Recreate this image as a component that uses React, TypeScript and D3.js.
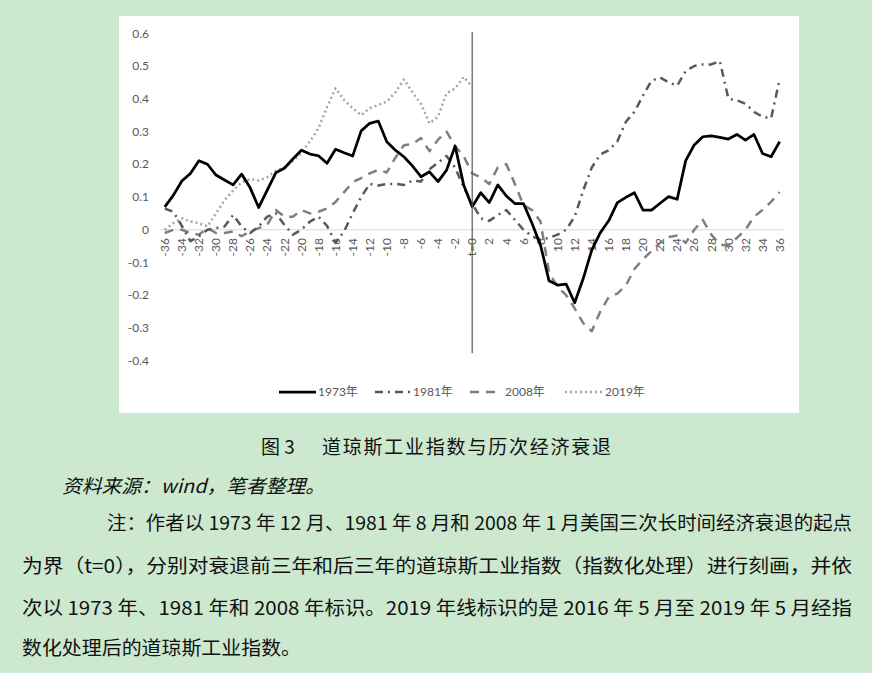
import React from "react";
import * as d3 from "d3";

// Months relative to the recession start (t = 0)
const months = [
  -36, -35, -34, -33, -32, -31, -30, -29, -28, -27, -26, -25, -24, -23, -22, -21, -20, -19, -18, -17, -16, -15, -14, -13,
  -12, -11, -10, -9, -8, -7, -6, -5, -4, -3, -2, -1, 0, 1, 2, 3, 4, 5, 6, 7, 8, 9, 10, 11, 12, 13, 14, 15, 16, 17, 18,
  19, 20, 21, 22, 23, 24, 25, 26, 27, 28, 29, 30, 31, 32, 33, 34, 35, 36,
];
const monthsPre = months.slice(0, 37);

const xTickValues = [
  -36, -34, -32, -30, -28, -26, -24, -22, -20, -18, -16, -14, -12, -10, -8, -6, -4, -2, 0, 2, 4, 6, 8, 10, 12, 14, 16,
  18, 20, 22, 24, 26, 28, 30, 32, 34, 36,
];
const xTickLabels = [
  "-36", "-34", "-32", "-30", "-28", "-26", "-24", "-22", "-20", "-18", "-16", "-14", "-12", "-10", "-8", "-6", "-4",
  "-2", "t=0", "2", "4", "6", "8", "10", "12", "14", "16", "18", "20", "22", "24", "26", "28", "30", "32", "34", "36",
];
const yTicks = [0.6, 0.5, 0.4, 0.3, 0.2, 0.1, 0, -0.1, -0.2, -0.3, -0.4];
const yTickLabels = ["0.6", "0.5", "0.4", "0.3", "0.2", "0.1", "0", "-0.1", "-0.2", "-0.3", "-0.4"];

const s1973 = [
  0.07, 0.105, 0.149, 0.172, 0.211, 0.2, 0.167, 0.152, 0.137, 0.17, 0.128, 0.068, 0.121, 0.174, 0.188, 0.216, 0.243,
  0.231, 0.226, 0.203, 0.246, 0.235, 0.225, 0.302, 0.325, 0.332, 0.269, 0.243, 0.223, 0.195, 0.162, 0.177, 0.147,
  0.182, 0.256, 0.137, 0.07, 0.113, 0.083, 0.137, 0.103, 0.08, 0.08, 0.02, -0.047, -0.156, -0.169, -0.166, -0.223,
  -0.149, -0.062, -0.009, 0.028, 0.083, 0.099, 0.113, 0.06, 0.06, 0.081, 0.101, 0.093, 0.211, 0.259, 0.284, 0.287,
  0.282, 0.277, 0.291, 0.274, 0.291, 0.233, 0.223, 0.269,
];
const s1981 = [
  0.065, 0.055, 0.012, -0.035, -0.02, 0.0, 0.005, 0.01, 0.045, 0.01, -0.01, 0.01, 0.04, 0.05, 0.015, -0.015, 0.0, 0.025,
  0.04, 0.012, -0.04, -0.005, 0.05, 0.1, 0.14, 0.135, 0.14, 0.14, 0.137, 0.15, 0.147, 0.185, 0.205, 0.225, 0.19, 0.13,
  0.08, 0.035, 0.027, 0.045, 0.06, 0.03, 0.0, -0.02, -0.03, -0.025, -0.015, 0.0, 0.04, 0.12, 0.19, 0.23, 0.243, 0.27,
  0.33, 0.36, 0.41, 0.455, 0.465, 0.45, 0.44, 0.485, 0.5, 0.505, 0.505, 0.515, 0.4, 0.395, 0.385, 0.36, 0.345, 0.34,
  0.46,
];
const s2008 = [
  -0.01, 0.0, 0.0, -0.01, -0.015, 0.005, -0.01, -0.01, -0.005, -0.02, -0.005, 0.005, 0.015, 0.06, 0.04, 0.04, 0.06,
  0.05, 0.055, 0.065, 0.085, 0.115, 0.145, 0.158, 0.172, 0.183, 0.175, 0.22, 0.258, 0.262, 0.28, 0.24, 0.275, 0.3,
  0.255, 0.225, 0.172, 0.16, 0.14, 0.19, 0.2, 0.14, 0.075, 0.06, 0.025, -0.13, -0.175, -0.2, -0.24, -0.285, -0.31,
  -0.25, -0.205, -0.195, -0.17, -0.12, -0.09, -0.065, -0.04, -0.022, -0.018, -0.04, 0.0, 0.03, -0.015, -0.045, -0.048,
  -0.025, 0.0, 0.04, 0.06, 0.085, 0.115,
];
const s2019 = [
  0.0, 0.02, 0.035, 0.025, 0.02, 0.01, 0.05, 0.09, 0.12, 0.145, 0.155, 0.15, 0.16, 0.18, 0.19, 0.21, 0.235, 0.27, 0.31,
  0.375, 0.432, 0.396, 0.371, 0.35, 0.371, 0.381, 0.391, 0.42, 0.459, 0.42, 0.385, 0.325, 0.345, 0.417, 0.432, 0.467,
  0.437,
];
const seriesNames = ["1973年", "1981年", "2008年", "2019年"];

const captionNo = "图 3";
const captionText = "道琼斯工业指数与历次经济衰退";
const sourceText = "资料来源：wind，笔者整理。";
const noteLines = [
  "注：作者以 1973 年 12 月、1981 年 8 月和 2008 年 1 月美国三次长时间经济衰退的起点",
  "为界（t=0），分别对衰退前三年和后三年的道琼斯工业指数（指数化处理）进行刻画，并依",
  "次以 1973 年、1981 年和 2008 年标识。2019 年线标识的是 2016 年 5 月至 2019 年 5 月经指",
  "数化处理后的道琼斯工业指数。",
];

export default function App() {
  const W = 872;
  const H = 673;
  const x = d3.scalePoint<number>().domain(months).range([160.5, 783.9]).padding(0.5);
  const y = d3.scaleLinear().domain([-0.4, 0.6]).range([360.7, 33.3]);

  const mkLine = (ms: number[]) =>
    d3
      .line<number>()
      .x((_, i) => x(ms[i]) as number)
      .y((d) => y(d));

  const styles = [
    { color: "#000000", width: 2.75, dash: undefined as string | undefined, cap: "butt" },
    { color: "#595959", width: 2.5, dash: "8 5 2 5", cap: "butt" },
    { color: "#7f7f7f", width: 2.5, dash: "9 7", cap: "butt" },
    { color: "#a6a6a6", width: 2.5, dash: "2 3", cap: "butt" },
  ];
  const series = [
    { data: s1973, ms: months },
    { data: s1981, ms: months },
    { data: s2008, ms: months },
    { data: s2019, ms: monthsPre },
  ];
  const drawOrder = [3, 2, 1, 0];

  const tickFont = "Lato, 'Noto Sans', 'Noto Sans CJK SC', sans-serif";
  const cjk = "'Noto Sans CJK SC', 'Noto Sans', sans-serif";

  const legendItems = [
    { x1: 279, x2: 316, tx: 318 },
    { x1: 375, x2: 411, tx: 413 },
    { x1: 470, x2: 498, tx: 505 },
    { x1: 565, x2: 603, tx: 605 },
  ];
  const legendY = 392;

  const x0 = x(0) as number;

  return (
    <div style={{ position: "absolute", left: 0, top: 0, width: W, height: H }}>
      <svg width={W} height={H} style={{ display: "block" }}>
        <rect x={0} y={0} width={W} height={H} fill="#cce8cf" />
        <rect x={119} y={16} width={680} height={397} fill="#ffffff" />

        {/* zero line */}
        <line x1={160.5} x2={783.9} y1={y(0)} y2={y(0)} stroke="#d9d9d9" strokeWidth={1} />

        {/* y tick labels */}
        {yTicks.map((t, i) => (
          <text
            key={"y" + i}
            x={149}
            y={y(t)}
            dy="0.35em"
            textAnchor="end"
            fontFamily={tickFont}
            fontSize={12}
            fill="#595959"
          >
            {yTickLabels[i]}
          </text>
        ))}

        {/* x tick labels */}
        {xTickValues.map((m, i) => (
          <text
            key={"x" + i}
            transform={`translate(${x(m)},${238}) rotate(-90)`}
            dy="0.35em"
            textAnchor="end"
            fontFamily={tickFont}
            fontSize={12}
            fill="#595959"
          >
            {xTickLabels[i]}
          </text>
        ))}

        {/* series */}
        {drawOrder.map((k) => (
          <path
            key={"s" + k}
            d={mkLine(series[k].ms)(series[k].data) || ""}
            fill="none"
            stroke={styles[k].color}
            strokeWidth={styles[k].width}
            strokeDasharray={styles[k].dash}
            strokeLinejoin="round"
            strokeLinecap={styles[k].cap as any}
          />
        ))}

        {/* t = 0 marker */}
        <line x1={x0} x2={x0} y1={y(0.604)} y2={y(-0.377)} stroke="#595959" strokeWidth={1.2} />

        {/* legend */}
        {legendItems.map((it, k) => (
          <g key={"l" + k}>
            <line
              x1={it.x1}
              x2={it.x2}
              y1={legendY}
              y2={legendY}
              stroke={styles[k].color}
              strokeWidth={styles[k].width}
              strokeDasharray={styles[k].dash}
            />
            <text x={it.tx} y={legendY} dy="0.35em" fontFamily={tickFont} fontSize={12} fill="#595959">
              {seriesNames[k]}
            </text>
          </g>
        ))}

        {/* caption */}
        <text x={261} y={454} fontFamily={cjk} fontSize={19} fill="#111">
          {captionNo}
        </text>
        <text x={322} y={454} fontFamily={cjk} fontSize={19} fill="#111" textLength={289} lengthAdjust="spacing">
          {captionText}
        </text>
        <text
          x={62}
          y={493}
          fontFamily={cjk}
          fontSize={19}
          fontStyle="italic"
          fill="#111"
          textLength={263}
          lengthAdjust="spacingAndGlyphs"
        >
          {sourceText}
        </text>
        <text x={107} y={530} fontFamily={cjk} fontSize={19} fill="#111" textLength={745} lengthAdjust="spacingAndGlyphs">
          {noteLines[0]}
        </text>
        <text x={22} y={573} fontFamily={cjk} fontSize={19} fill="#111" textLength={830} lengthAdjust="spacingAndGlyphs">
          {noteLines[1]}
        </text>
        <text x={22} y={615} fontFamily={cjk} fontSize={19} fill="#111" textLength={830} lengthAdjust="spacingAndGlyphs">
          {noteLines[2]}
        </text>
        <text x={22} y={655} fontFamily={cjk} fontSize={19} fill="#111" textLength={279} lengthAdjust="spacingAndGlyphs">
          {noteLines[3]}
        </text>
      </svg>
    </div>
  );
}
